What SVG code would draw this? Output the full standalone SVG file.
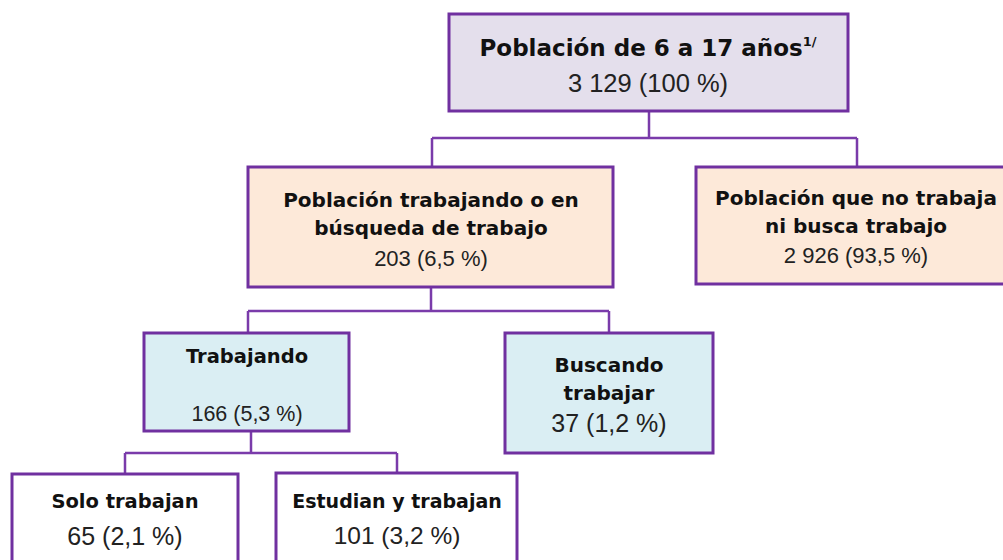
<svg xmlns="http://www.w3.org/2000/svg" width="1003" height="560" viewBox="0 0 1003 560">
<style>
.box{stroke:#7030A0;stroke-width:3}
.lav{fill:#E4DFEC}
.peach{fill:#FDE9D9}
.blue{fill:#DAEEF3}
.white{fill:#FFFFFF}
.conn{fill:none;stroke:#7A3BAA;stroke-width:2.5}
.b{font-family:"DejaVu Sans","Liberation Sans",sans-serif;font-weight:bold;fill:#111;text-anchor:middle}
.n{font-family:"Liberation Sans","DejaVu Sans",sans-serif;fill:#222;text-anchor:middle}
</style>
<rect width="1003" height="560" fill="#FFFFFF"/>
<g id="connectors">
<path class="conn" d="M649,111 V138 M432,138 H857 M432,138 V167 M857,138 V167"/>
<path class="conn" d="M431,287 V311 M248,311 H609 M248,311 V333 M609,311 V333"/>
<path class="conn" d="M251,431 V453 M125,453 H397 M125,453 V473 M397,453 V473"/>
</g>
<g id="node-total">
<rect class="box lav" x="449" y="14" width="399" height="97"/>
<text class="b" x="648" y="56" font-size="23">Población de 6 a 17 años<tspan font-size="13" dy="-10">1/</tspan></text>
<text class="n" x="648" y="92" font-size="25.5">3 129 (100 %)</text>
</g>
<g id="node-activa">
<rect class="box peach" x="248" y="167" width="365" height="120"/>
<text class="b" x="431" y="207" font-size="20">Población trabajando o en</text>
<text class="b" x="431" y="235" font-size="20">búsqueda de trabajo</text>
<text class="n" x="431" y="266" font-size="22">203 (6,5 %)</text>
</g>
<g id="node-inactiva">
<rect class="box peach" x="696" y="167" width="322" height="117"/>
<text class="b" x="856" y="205" font-size="20">Población que no trabaja</text>
<text class="b" x="856" y="233" font-size="20">ni busca trabajo</text>
<text class="n" x="856" y="263" font-size="22">2 926 (93,5 %)</text>
</g>
<g id="node-trabajando">
<rect class="box blue" x="144" y="333" width="205" height="98"/>
<text class="b" x="247" y="363" font-size="19.5">Trabajando</text>
<text class="n" x="247" y="421" font-size="21.5">166 (5,3 %)</text>
</g>
<g id="node-buscando">
<rect class="box blue" x="505" y="333" width="208" height="120"/>
<text class="b" x="609" y="372" font-size="20">Buscando</text>
<text class="b" x="609" y="400" font-size="20">trabajar</text>
<text class="n" x="609" y="432" font-size="25">37 (1,2 %)</text>
</g>
<g id="node-solo">
<rect class="box white" x="12" y="474" width="226" height="100"/>
<text class="b" x="125" y="508" font-size="19.5">Solo trabajan</text>
<text class="n" x="125" y="545" font-size="25">65 (2,1 %)</text>
</g>
<g id="node-estudian">
<rect class="box white" x="276" y="473" width="241" height="100"/>
<text class="b" x="397" y="508" font-size="19">Estudian y trabajan</text>
<text class="n" x="397" y="544" font-size="24.5">101 (3,2 %)</text>
</g>
</svg>
